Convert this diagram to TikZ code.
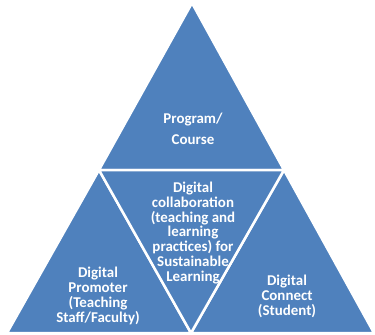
\documentclass[tikz,border=0pt]{standalone}
\usepackage{fontspec}
\setmainfont{Carlito}
\usetikzlibrary{positioning}

\begin{document}
\begin{tikzpicture}[x=1bp,y=-1bp,
  part/.style={fill=partblue,draw=white,line width=2.5bp,line join=miter},
  label/.style={text=white,font=\bfseries\fontsize{15}{15}\selectfont,align=center,inner sep=0pt}]
  \definecolor{partblue}{HTML}{4F81BD}
  \useasboundingbox (0,0) rectangle (375,335);

  % corners
  \coordinate (top) at (192,3);
  \coordinate (bl) at (7,333);
  \coordinate (br) at (374,333);
  \coordinate (bm) at (191,333);
  \coordinate (ml) at (99,170);
  \coordinate (mr) at (284,170);

  % the four parts
  \filldraw[part] (top) -- (mr) -- (ml) -- cycle;
  \filldraw[part] (ml) -- (bm) -- (bl) -- cycle;
  \filldraw[part] (mr) -- (br) -- (bm) -- cycle;
  \filldraw[part] (ml) -- (mr) -- (bm) -- cycle;

  % texts
  \node[label,font=\bfseries\fontsize{15}{21}\selectfont] (prog) at (193,129) {Program/\\Course};
  \node[label] (collab) at (193,233) {Digital\\collaboration\\(teaching and\\learning\\practices) for\\Sustainable\\Learning};
  \node[label] (promoter) at (98,296) {Digital\\Promoter\\(Teaching\\Staff/Faculty)};
  \node[label] (connect) at (287,296) {Digital\\Connect\\(Student)};
\end{tikzpicture}
\end{document}
